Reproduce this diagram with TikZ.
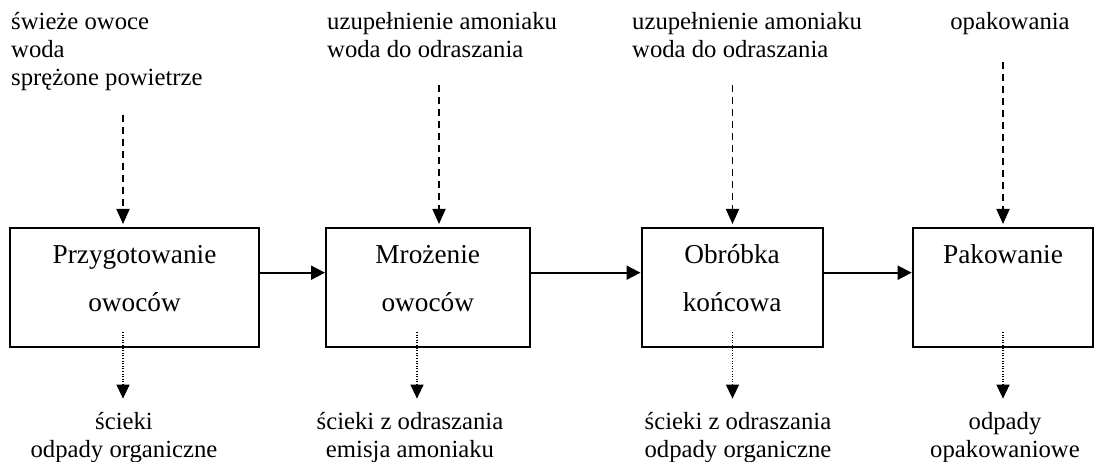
\documentclass[tikz,border=0pt]{standalone}
\usepackage{fontspec}
\setmainfont{Liberation Serif}
\usetikzlibrary{arrows.meta}
\begin{document}
\begin{tikzpicture}[x=1pt,y=-1pt,
  procbox/.style={draw, line width=2pt, inner sep=0pt, minimum height=119pt},
  boxtxt/.style={font=\fontsize{27.3}{32}\selectfont, inner sep=0pt, anchor=base},
  inlbl/.style={font=\fontsize{24.7}{28}\selectfont, inner sep=0pt, align=left, anchor=base west},
  outlbl/.style={font=\fontsize{24.7}{28}\selectfont, inner sep=0pt, align=center, anchor=base},
  flow/.style={line width=1.8pt, -{Triangle[length=14pt,width=14pt]}},
  inflow/.style={line width=1.8pt, dash pattern=on 7pt off 5pt, -{Triangle[length=15pt,width=13pt]}, shorten >=3pt},
  outflow/.style={line width=1.3pt, dash pattern=on 1pt off 1.6pt, -{Triangle[length=14pt,width=13pt]}, shorten >=13pt}
]
\useasboundingbox (0,0) rectangle (1098,462);

% process boxes
\node[procbox, minimum width=249pt]   (b1) at (134.5,287.5) {};
\node[procbox, minimum width=203.5pt] (b2) at (427.75,287.5) {};
\node[procbox, minimum width=181.2pt] (b3) at (732.1,287.5) {};
\node[procbox, minimum width=180.6pt] (b4) at (1003,287.5) {};

% box texts
\node[boxtxt] (t1a) at (134.5,263.3) {Przygotowanie};
\node[boxtxt] (t1b) at (134.5,311.7) {owoców};
\node[boxtxt] (t2a) at (427.75,263.3) {Mrożenie};
\node[boxtxt] (t2b) at (427.75,311.7) {owoców};
\node[boxtxt] (t3a) at (732.1,263.3) {Obróbka};
\node[boxtxt] (t3b) at (732.1,311.7) {końcowa};
\node[boxtxt] (t4a) at (1003,263.3) {Pakowanie};

% main flow
\draw[flow] ([yshift=14.8pt]b1.east) -- ([yshift=14.8pt]b2.west);
\draw[flow] ([yshift=14.8pt]b2.east) -- ([yshift=14.8pt]b3.west);
\draw[flow] ([yshift=14.8pt]b3.east) -- ([yshift=14.8pt]b4.west);

% inputs (anchor = baseline of last line)
\node[inlbl] (in1) at (11,86) {świeże owoce\\woda\\sprężone powietrze};
\node[inlbl] (in2) at (327,58) {uzupełnienie amoniaku\\woda do odraszania};
\node[inlbl] (in3) at (632,58) {uzupełnienie amoniaku\\woda do odraszania};
\node[inlbl, anchor=base] (in4) at (1010,30) {opakowania};

\coordinate (s1) at (123,115);
\coordinate (s2) at (439,85);
\coordinate (s3) at (732.5,85);
\coordinate (s4) at (1003,62);
\draw[inflow] (s1) -- (s1 |- b1.north);
\draw[inflow] (s2) -- (s2 |- b2.north);
\draw[inflow] (s3) -- (s3 |- b3.north);
\draw[inflow] (s4) -- (s4 |- b4.north);

% outputs (anchor = baseline of last line)
\node[outlbl] (o1) at (124,457) {ścieki\\odpady organiczne};
\node[outlbl] (o2) at (410,457) {ścieki z odraszania\\emisja amoniaku};
\node[outlbl] (o3) at (738,457) {ścieki z odraszania\\odpady organiczne};
\node[outlbl] (o4) at (1005,457) {odpady\\opakowaniowe};

\coordinate (e1) at (123,332);
\coordinate (e2) at (417,332);
\coordinate (e3) at (732.5,332);
\coordinate (e4) at (1003,332);
\draw[outflow] (e1) -- (e1 |- o1.north);
\draw[outflow] (e2) -- (e2 |- o2.north);
\draw[outflow] (e3) -- (e3 |- o3.north);
\draw[outflow] (e4) -- (e4 |- o4.north);
\end{tikzpicture}
\end{document}
